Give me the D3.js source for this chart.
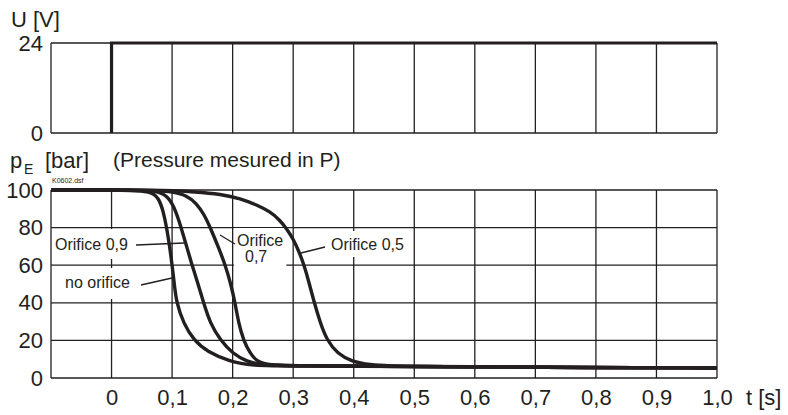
<!doctype html>
<html lang="en">
<head>
<meta charset="UTF-8">
<title>Pressure drop</title>
<script src="https://cdn.jsdelivr.net/npm/d3@7"></script>
<style>
  body { margin: 0; background: #fff; }
  text { font-family: "Liberation Sans", Arial, sans-serif; fill: #231f20; }
</style>
</head>
<body>
<script>
var w = 788, h = 415, ink = "#231f20";

// tick values and labels
var timeTicks = [0, 0.1, 0.2, 0.3, 0.4, 0.5, 0.6, 0.7, 0.8, 0.9, 1.0];
var timeLabels = ["0", "0,1", "0,2", "0,3", "0,4", "0,5", "0,6", "0,7", "0,8", "0,9", "1,0"];
var voltTicks = [0, 24];
var pressTicks = [0, 20, 40, 60, 80, 100];

// voltage signal
var tSignal = [0, 0, 1.0];
var uSignal = [0, 24, 24];

// pressure curves
var tNoOrifice = [-0.1, 0.03, 0.064, 0.078, 0.086, 0.091, 0.096, 0.1, 0.103, 0.107, 0.119, 0.136, 0.158, 0.196, 0.229, 0.3, 0.5, 0.7, 1.0];
var pNoOrifice = [100, 100, 99.3, 96, 88, 80, 70, 60, 52, 40, 29, 20, 14, 8.7, 6.6, 6.4, 6.1, 5.7, 5.3];

var tOrifice09 = [-0.1, 0.04, 0.078, 0.095, 0.106, 0.115, 0.124, 0.133, 0.142, 0.152, 0.163, 0.18, 0.2, 0.224, 0.246, 0.3, 0.5, 0.7, 1.0];
var pOrifice09 = [100, 100, 99.5, 96, 89, 80, 70, 60, 51, 40, 29, 20, 13, 8.7, 7, 6.5, 6.1, 5.7, 5.3];

var tOrifice07 = [-0.1, 0.06, 0.1, 0.125, 0.14, 0.153, 0.163, 0.176, 0.188, 0.197, 0.204, 0.21, 0.218, 0.229, 0.24, 0.262, 0.3, 0.5, 0.7, 1.0];
var pOrifice07 = [100, 100, 99.3, 97, 93, 87, 80, 70, 60, 50, 40, 29, 20, 13, 8.7, 6.8, 6.5, 6.1, 5.7, 5.3];

var tOrifice05 = [-0.1, 0.08, 0.141, 0.18, 0.213, 0.24, 0.262, 0.278, 0.29, 0.3, 0.31, 0.318, 0.326, 0.334, 0.345, 0.356, 0.373, 0.397, 0.427, 0.46, 0.5, 0.7, 1.0];
var pOrifice05 = [100, 100, 99, 97.8, 95.5, 92, 88.5, 84, 79, 74, 67, 60, 51, 41, 29, 20, 13, 8.7, 7, 6.4, 6.1, 5.7, 5.3];

var series = [
  { t: tNoOrifice, p: pNoOrifice },
  { t: tOrifice09, p: pOrifice09 },
  { t: tOrifice07, p: pOrifice07 },
  { t: tOrifice05, p: pOrifice05 }
];

var x = d3.scaleLinear().domain([-0.1, 1.0]).range([51, 717]);
var yU = d3.scaleLinear().domain([0, 24]).range([133, 43]);
var yP = d3.scaleLinear().domain([0, 100]).range([378, 190]);

var svg = d3.select("body").append("svg")
  .attr("width", w)
  .attr("height", h);

// ---- top panel: frame and verticals
var upper = svg.append("g").attr("stroke", ink).attr("stroke-width", 1.3);
upper.selectAll("line.v")
  .data([-0.1].concat(timeTicks))
  .enter().append("line")
  .attr("x1", function(d) { return x(d); })
  .attr("x2", function(d) { return x(d); })
  .attr("y1", yU(24))
  .attr("y2", yU(0));
upper.append("line")
  .attr("x1", x(-0.1)).attr("x2", x(1.0))
  .attr("y1", yU(0)).attr("y2", yU(0));
upper.append("line")
  .attr("x1", x(-0.1)).attr("x2", x(0))
  .attr("y1", yU(24)).attr("y2", yU(24));

// ---- bottom panel grid
var grid = svg.append("g").attr("stroke", ink).attr("stroke-width", 1.3);
grid.selectAll("line.v")
  .data([-0.1].concat(timeTicks))
  .enter().append("line")
  .attr("x1", function(d) { return x(d); })
  .attr("x2", function(d) { return x(d); })
  .attr("y1", yP(100))
  .attr("y2", yP(0));
grid.selectAll("line.h")
  .data(pressTicks)
  .enter().append("line")
  .attr("x1", x(-0.1))
  .attr("x2", x(1.0))
  .attr("y1", function(d) { return yP(d); })
  .attr("y2", function(d) { return yP(d); });

// ---- axes labels
var xAxis = d3.axisBottom(x)
  .tickValues(timeTicks)
  .tickFormat(function(d, i) { return timeLabels[i]; })
  .tickSize(0)
  .tickPadding(11);
var gx = svg.append("g").attr("transform", "translate(0," + yP(0) + ")").call(xAxis);

var gyU = svg.append("g").attr("transform", "translate(" + x(-0.1) + ",0)")
  .call(d3.axisLeft(yU).tickValues(voltTicks).tickSize(0).tickPadding(8));
var gyP = svg.append("g").attr("transform", "translate(" + x(-0.1) + ",0)")
  .call(d3.axisLeft(yP).tickValues(pressTicks).tickSize(0).tickPadding(8));

[gx, gyU, gyP].forEach(function(g) {
  g.select(".domain").remove();
  g.selectAll("text")
    .attr("fill", ink)
    .style("font-family", '"Liberation Sans", Arial, sans-serif')
    .style("font-size", "22px");
});

svg.append("text").attr("x", 746).attr("y", 405).style("font-size", "22px").text("t [s]");
svg.append("text").attr("x", 11).attr("y", 27).style("font-size", "22px").text("U [V]");

var pe = svg.append("text").attr("y", 168).style("font-size", "22px");
pe.append("tspan").attr("x", 10).text("p");
pe.append("tspan").attr("x", 24).attr("y", 174).style("font-size", "14px").text("E");
pe.append("tspan").attr("x", 45).attr("y", 168).text("[bar]");

svg.append("text").attr("x", 113).attr("y", 167).style("font-size", "21px").text("(Pressure mesured in P)");
svg.append("text").attr("x", 52).attr("y", 183).style("font-size", "7px").text("K0602.dsf");

// ---- curve labels with white backgrounds
var labels = [
  { lines: ["Orifice 0,9"], x: 55, y: 250, pad: [7, 3, 6, 3], lead: [[136, 245], [184, 243]] },
  { lines: ["no orifice"], x: 65, y: 288, pad: [6, 3, 8, 3], lead: [[141, 285], [172, 278]] },
  { lines: ["Orifice", "0,7"], x: 237, y: 246, dx: [0, 8], pad: [4, 3, 2, 3], lead: [[235, 244], [220, 235]] },
  { lines: ["Orifice 0,5"], x: 331, y: 250, pad: [5, 3, 4, 3], lead: [[325, 247], [301, 253]] }
];

var boxLayer = svg.append("g");
var curveLayer = svg.append("g");
var textLayer = svg.append("g");

labels.forEach(function(l) {
  var t = textLayer.append("text").style("font-size", "16px");
  l.lines.forEach(function(s, i) {
    t.append("tspan")
      .attr("x", l.x + (l.dx ? l.dx[i] : 0))
      .attr("y", l.y + i * 15.5)
      .text(s);
  });
  var b = t.node().getBBox();
  boxLayer.append("rect")
    .attr("x", b.x - l.pad[3])
    .attr("y", b.y - l.pad[0])
    .attr("width", b.width + l.pad[1] + l.pad[3])
    .attr("height", b.height + l.pad[0] + l.pad[2])
    .attr("fill", "#fff");
  textLayer.append("line")
    .attr("x1", l.lead[0][0]).attr("y1", l.lead[0][1])
    .attr("x2", l.lead[1][0]).attr("y2", l.lead[1][1])
    .attr("stroke", ink).attr("stroke-width", 1.3);
});

// ---- pressure curves
var line = d3.line()
  .x(function(d) { return x(d[0]); })
  .y(function(d) { return yP(d[1]); })
  .curve(d3.curveBasis);

curveLayer.selectAll("path")
  .data(series)
  .enter().append("path")
  .attr("d", function(s) { return line(d3.zip(s.t, s.p)); })
  .attr("fill", "none")
  .attr("stroke", ink)
  .attr("stroke-width", 3.4)
  .attr("stroke-linejoin", "round");

// ---- voltage signal
var stepLine = d3.line()
  .x(function(d) { return x(d[0]); })
  .y(function(d) { return yU(d[1]); });
svg.append("path")
  .attr("d", stepLine(d3.zip(tSignal, uSignal)))
  .attr("fill", "none")
  .attr("stroke", ink)
  .attr("stroke-width", 3.2);
</script>
</body>
</html>
